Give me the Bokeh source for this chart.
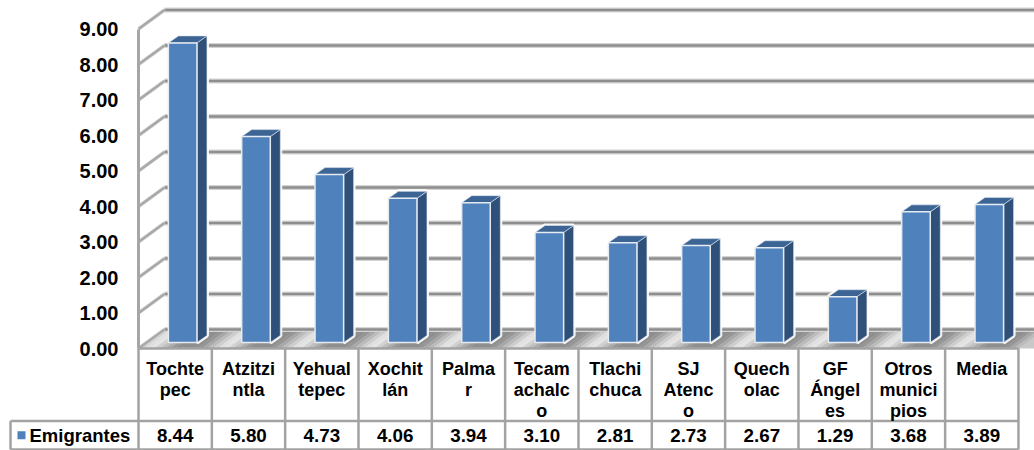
from bokeh.plotting import figure
from bokeh.models import LinearAxis, FixedTicker, NumeralTickFormatter, Range1d
from bokeh.core.properties import value
from bokeh.embed import file_html
from bokeh.resources import INLINE

categories = ["Tochte\npec", "Atzitzi\nntla", "Yehual\ntepec", "Xochit\nlán", "Palma\nr",
              "Tecam\nachalc\no", "Tlachi\nchuca", "SJ\nAtenc\no", "Quech\nolac",
              "GF\nÁngel\nes", "Otros\nmunici\npios", "Media"]
emigrantes = [8.44, 5.80, 4.73, 4.06, 3.94, 3.10, 2.81, 2.73, 2.67, 1.29, 3.68, 3.89]
y_ticks = [0, 1, 2, 3, 4, 5, 6, 7, 8, 9]
series_name = "Emigrantes"

FONT = "Liberation Sans"
W, H = 1034, 450
X0, Y0 = 138.0, 348.0      # image pixel of category edge 0 / value 0
CW, VH = 73.33, 35.5       # pixels per category / per unit
n = len(categories)
OFF = 0

dx = lambda px: px / CW
dy = lambda px: px / VH
X = lambda px: (px - X0) / CW
Y = lambda py: (Y0 - py) / VH

p = figure(width=W, height=H, output_backend="svg", toolbar_location=None,
           x_range=Range1d(X(OFF), X(OFF + W)), y_range=Range1d(Y(OFF + H), Y(OFF)),
           min_border=0, outline_line_color=None, background_fill_color="white",
           x_axis_type=None, y_axis_type=None)
p.grid.visible = False

# ---------- walls ----------
WX, WY = dx(26), dy(19)
x_end = X(1040)

# floor: one sheen repeated per category
def shade(f):
    # f = position within a category; light sheen near 0.15, dark near 0.62
    d = min(abs(f - 0.15), 1 - abs(f - 0.15))
    t = min(d / 0.36, 1.0)
    c = int(236 - t * (236 - 142))
    return f"#{c:02x}{c:02x}{c:02x}"

STEPS = 14
for i in range(n):
    for k in range(STEPS):
        a, b = i + k / STEPS, i + (k + 1.15) / STEPS
        p.patch([a, b, b + WX, a + WX], [0, 0, WY, WY],
                fill_color=shade((k + 0.5) / STEPS), line_color=None)
p.patch([n, n + WX, n + WX, n], [0, WY, 0, 0], fill_color="#c8c8c8", line_color=None)

# back-wall grid lines
for t in y_ticks:
    yy = t + WY
    p.line([WX, x_end], [yy] * 2, line_color="#d4d4d4", line_width=5)
    p.line([WX, x_end], [yy] * 2, line_color="#8e8e8e", line_width=2.5)
    p.line([0, WX], [t, yy], line_color="#dcdcdc", line_width=4)
    p.line([0, WX], [t, yy], line_color="#a8a8a8", line_width=2.5)

# ---------- bars ----------
BW = 0.39
BX, BY = dx(7.5), dy(6)
DX, DY = dx(10), dy(7)
for i, v in enumerate(emigrantes):
    l = i + 0.5 - BW / 2 + BX
    r = l + BW
    b = BY
    t = v + BY
    front = ([l, r, r, l], [b, b, t, t])
    side = ([r, r + DX, r + DX, r], [b, b + DY, t + DY, t])
    top = ([l, r, r + DX, l + DX], [t, t, t + DY, t + DY])
    for xs, ys in (side, top):
        p.patch(xs, ys, fill_color="white", line_color="white", line_width=4, line_alpha=0.9)
    p.patch(*side, fill_color="#2f5078", line_color="#dfe6ef", line_width=1, line_alpha=0.6)
    p.patch(*top, fill_color="#3c6595", line_color="#dfe6ef", line_width=1, line_alpha=0.6)
    p.patch(*front, fill_color="#4f81bd", line_color="#e6ebf2", line_width=1.5)

# ---------- data table ----------
grid = "#a3a3a3"
row1, row2 = Y(420.5), Y(449)
p.segment(x0=[0, 0, X(10)], y0=[0, row1, row2], x1=[n, n, n], y1=[0, row1, row2],
          line_color=grid, line_width=2.5)
p.segment(x0=[X(10)], y0=[row1], x1=[0], y1=[row1], line_color=grid, line_width=2.5)
p.segment(x0=list(range(n + 1)), y0=[0] * (n + 1), x1=list(range(n + 1)), y1=[row2] * (n + 1),
          line_color=grid, line_width=2.5)
p.segment(x0=[X(10)], y0=[row1], x1=[X(10)], y1=[row2], line_color=grid, line_width=2.5)

row_mid = (row1 + row2) / 2
p.text(x=[i + 0.5 for i in range(n)], y=[row_mid] * n, text=[f"{v:.2f}" for v in emigrantes],
       text_font=value(FONT), text_font_style="bold", text_font_size="18.8px",
       text_color="black", text_align="center", text_baseline="middle")
p.text(x=[X(29)], y=[row_mid], text=[series_name], text_font=value(FONT), text_font_style="bold",
       text_font_size="18.5px", text_color="black", text_align="left", text_baseline="middle")
p.scatter(x=[X(21)], y=[row_mid], marker="square", size=8, fill_color="#4f81bd", line_color=None)

# ---------- axes ----------
ya = LinearAxis(fixed_location=0, bounds=(0, 9), ticker=FixedTicker(ticks=y_ticks),
                formatter=NumeralTickFormatter(format="0.00"))
ya.axis_line_color = "#a6a6a6"
ya.axis_line_width = 3
ya.major_tick_line_color = None
ya.minor_tick_line_color = None
ya.major_tick_in = 0
ya.major_tick_out = 0
ya.major_label_standoff = 20
ya.major_label_text_font = FONT
ya.major_label_text_font_style = "bold"
ya.major_label_text_font_size = "20px"
ya.major_label_text_color = "black"
p.add_layout(ya, "left")

xa = LinearAxis(fixed_location=0, ticker=FixedTicker(ticks=[i + 0.5 for i in range(n)]),
                major_label_overrides={i + 0.5: c for i, c in enumerate(categories)})
xa.axis_line_color = None
xa.major_tick_line_color = None
xa.minor_tick_line_color = None
xa.major_tick_in = 0
xa.major_tick_out = 0
xa.major_label_standoff = 10
xa.major_label_text_font = FONT
xa.major_label_text_font_style = "bold"
xa.major_label_text_font_size = "18px"
xa.major_label_text_color = "black"
xa.major_label_text_line_height = 1.06
p.add_layout(xa, "below")

open("out.html", "w").write(file_html(p, INLINE))
